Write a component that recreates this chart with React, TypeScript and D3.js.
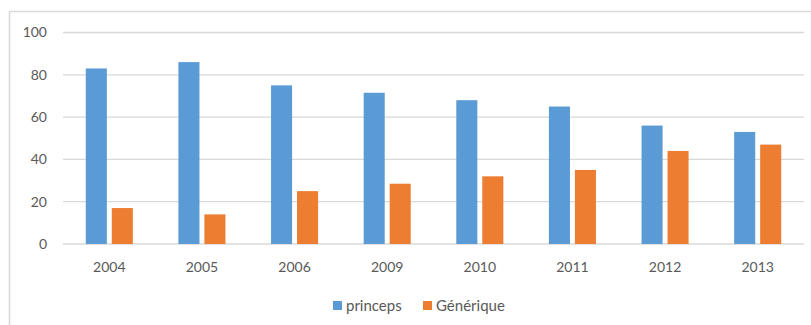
import React from "react";
import * as d3 from "d3";

const years = ["2004", "2005", "2006", "2009", "2010", "2011", "2012", "2013"];
const princeps = [83, 86, 75, 71.5, 68, 65, 56, 53];
const generique = [17, 14, 25, 28.5, 32, 35, 44, 47];
const seriesNames = ["princeps", "Générique"];
const seriesColors = ["#5B9BD5", "#ED7D31"];
const yTicks = [0, 20, 40, 60, 80, 100];

export default function App() {
  const W = 811, H = 325;
  const left = 63, right = 804, top = 32.5, bottom = 244;
  const x0 = d3.scaleBand<string>().domain(years).range([left, right]).paddingInner(0.492).paddingOuter(0.246);
  const x1 = d3.scaleBand<string>().domain(seriesNames).range([0, x0.bandwidth()]).paddingInner(0.19).paddingOuter(0);
  const y = d3.scaleLinear().domain([0, 100]).range([bottom, top]);
  const data = [princeps, generique];
  const font = "Lato, 'Open Sans', sans-serif";
  return (
    <svg width={W} height={H} style={{ position: "absolute", left: 0, top: 0, background: "#fff" }}>
      <rect x={9.5} y={11.5} width={W + 10} height={H + 10} fill="#fff" stroke="#D9D9D9" strokeWidth={1.5} />
      {yTicks.map((t) => (
        <g key={t}>
          <line x1={left} x2={right} y1={y(t)} y2={y(t)} stroke="#D9D9D9" strokeWidth={1.3} />
          <text x={47} y={y(t)} dy="0.35em" textAnchor="end" fontFamily={font} fontSize={14} fill="#595959">{t}</text>
        </g>
      ))}
      {years.map((yr, i) => (
        <g key={yr}>
          {data.map((s, j) => (
            <rect key={j} x={(x0(yr) as number) + (x1(seriesNames[j]) as number)} y={y(s[i])} width={x1.bandwidth()} height={bottom - y(s[i])} fill={seriesColors[j]} />
          ))}
          <text x={(x0(yr) as number) + x0.bandwidth() / 2} y={267} dy="0.35em" textAnchor="middle" fontFamily={font} fontSize={14} fill="#595959">{yr}</text>
        </g>
      ))}
      <g>
        <rect x={333} y={301} width={9} height={9} fill={seriesColors[0]} />
        <text x={346} y={305.5} dy="0.35em" fontFamily={font} fontSize={15} fill="#595959">{seriesNames[0]}</text>
        <rect x={423} y={301} width={9} height={9} fill={seriesColors[1]} />
        <text x={436} y={305.5} dy="0.35em" fontFamily={font} fontSize={15} fill="#595959">{seriesNames[1]}</text>
      </g>
    </svg>
  );
}
